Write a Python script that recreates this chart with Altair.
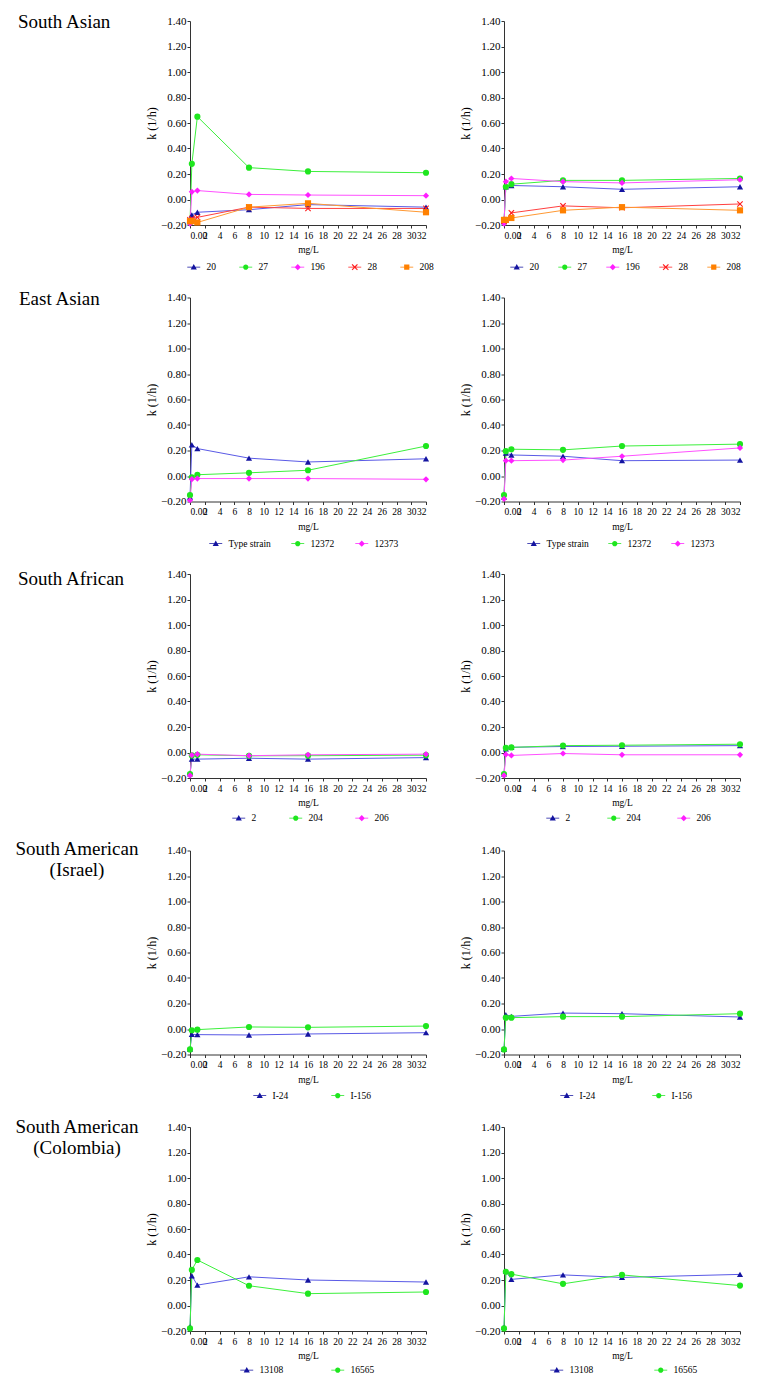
import altair as alt
import pandas as pd

# ---------------- data ----------------
x_conc = [0, 0.25, 1, 8, 16, 32]

row_labels = ["South Asian", "East Asian", "South African",
              "South American\n(Israel)", "South American\n(Colombia)"]

sa_series = ["20", "27", "196", "28", "208"]
sa_left_20 = [-0.16, -0.12, -0.10, -0.08, -0.04, -0.06]
sa_left_27 = [-0.18, 0.28, 0.65, 0.25, 0.22, 0.21]
sa_left_196 = [-0.19, 0.06, 0.07, 0.04, 0.035, 0.03]
sa_left_28 = [-0.16, -0.15, -0.14, -0.06, -0.07, -0.07]
sa_left_208 = [-0.17, -0.17, -0.18, -0.06, -0.03, -0.10]
sa_right_20 = [-0.17, 0.10, 0.11, 0.10, 0.08, 0.10]
sa_right_27 = [-0.18, 0.10, 0.12, 0.15, 0.15, 0.165]
sa_right_196 = [-0.19, 0.14, 0.165, 0.14, 0.13, 0.155]
sa_right_28 = [-0.17, -0.16, -0.105, -0.05, -0.065, -0.035]
sa_right_208 = [-0.16, -0.16, -0.145, -0.085, -0.06, -0.085]

ea_series = ["Type strain", "12372", "12373"]
ea_left_type = [-0.165, 0.245, 0.215, 0.14, 0.11, 0.135]
ea_left_12372 = [-0.15, -0.01, 0.01, 0.025, 0.045, 0.235]
ea_left_12373 = [-0.19, -0.025, -0.02, -0.02, -0.02, -0.026]
ea_right_type = [-0.165, 0.18, 0.165, 0.155, 0.12, 0.125]
ea_right_12372 = [-0.15, 0.195, 0.21, 0.205, 0.235, 0.25]
ea_right_12373 = [-0.18, 0.12, 0.12, 0.125, 0.155, 0.22]

saf_series = ["2", "204", "206"]
saf_left_2 = [-0.165, -0.052, -0.052, -0.045, -0.052, -0.04]
saf_left_204 = [-0.17, -0.023, -0.018, -0.026, -0.025, -0.021]
saf_left_206 = [-0.18, -0.02, -0.013, -0.025, -0.018, -0.013]
saf_right_2 = [-0.168, 0.028, 0.041, 0.047, 0.049, 0.054]
saf_right_204 = [-0.17, 0.036, 0.04, 0.054, 0.057, 0.065]
saf_right_206 = [-0.18, -0.016, -0.023, -0.008, -0.018, -0.018]

isr_series = ["I-24", "I-156"]
isr_left_i24 = [-0.158, -0.042, -0.044, -0.047, -0.039, -0.029]
isr_left_i156 = [-0.16, -0.01, -0.005, 0.016, 0.013, 0.023]
isr_right_i24 = [-0.159, 0.112, 0.099, 0.125, 0.12, 0.094]
isr_right_i156 = [-0.16, 0.089, 0.089, 0.097, 0.097, 0.12]

col_series = ["13108", "16565"]
col_left_13108 = [-0.168, 0.233, 0.16, 0.225, 0.2, 0.184]
col_left_16565 = [-0.18, 0.28, 0.357, 0.155, 0.093, 0.106]
col_right_13108 = [-0.172, 0.27, 0.205, 0.24, 0.22, 0.244]
col_right_16565 = [-0.18, 0.265, 0.246, 0.17, 0.24, 0.156]

x_ticks = list(range(0, 33, 2))
y_ticks = [-0.2, 0.0, 0.2, 0.4, 0.6, 0.8, 1.0, 1.2, 1.4]

# ---------------- styles ----------------
SERIF = "Liberation Serif"
MARKER_COLORS = ["#1414a0", "#1ee61e", "#ff1eff", "#ff1e1e", "#ff8000"]
LINE_COLORS = ["#5a5ae6", "#3cf03c", "#ff50ff", "#ff4040", "#ff9933"]
XPATH = ("M-1,-0.75L-0.75,-1L0,-0.25L0.75,-1L1,-0.75L0.25,0L1,0.75L0.75,1"
         "L0,0.25L-0.75,1L-1,0.75L-0.25,0Z")
SHAPES = ["triangle-up", "circle", "diamond", XPATH, "square"]
BAR = "M-2.1,-0.09L2.1,-0.09L2.1,0.09L-2.1,0.09Z"
LEG_SHAPES = [
    "M0,-1L1,0.8L-1,0.8Z" + BAR,
    "M0.85,0A0.85,0.85 0 1,1 -0.85,0A0.85,0.85 0 1,1 0.85,0Z" + BAR,
    "M0,-1L1,0L0,1L-1,0Z" + BAR,
    XPATH + BAR,
    "M-0.85,-0.85L0.85,-0.85L0.85,0.85L-0.85,0.85Z" + BAR,
]
W, H = 236, 204


def panel(series, values, leg_x, leg_y, col_pad, label=None, label_x=0,
          label_align="left", label_y=7):
    recs = []
    for i, (name, vals) in enumerate(zip(series, values)):
        for xv, yv in zip(x_conc, vals):
            recs.append({"conc": xv, "k": yv, "series": name,
                         "lc": LINE_COLORS[i]})
    df = pd.DataFrame(recs)
    n = len(series)
    xenc = alt.X("conc:Q", scale=alt.Scale(domain=[0, 32], nice=False, zero=False),
                 axis=alt.Axis(values=x_ticks, title="mg/L",
                               labelExpr="datum.value == 0 ? '0.00' : datum.label",
                               labelOverlap=False, labelFontSize=9.5,
                               labelFont=SERIF, titleFont=SERIF,
                               tickSize=3, labelPadding=2, titlePadding=5,
                               titleFontSize=9.5))
    yenc = alt.Y("k:Q", scale=alt.Scale(domain=[-0.2, 1.4], nice=False, zero=False),
                 axis=alt.Axis(values=y_ticks, format=".2f", title="k (1/h)",
                               labelFont=SERIF, titleFont=SERIF,
                               labelFontSize=11, tickSize=3, labelPadding=1,
                               titlePadding=2, titleFontSize=12))
    base = alt.Chart(df)
    line = base.mark_line(strokeWidth=1).encode(
        x=xenc, y=yenc, color=alt.Color("lc:N", scale=None),
        detail="series:N", order="conc:Q")
    pts = base.mark_point(filled=True, opacity=1, size=38).encode(
        x=xenc, y=yenc,
        color=alt.Color("series:N", scale=alt.Scale(domain=series,
                                                    range=MARKER_COLORS[:n]),
                        legend=None),
        shape=alt.Shape("series:N", scale=alt.Scale(domain=series,
                                                    range=SHAPES[:n]),
                        legend=None))
    leg = alt.Legend(orient="none", legendX=leg_x, legendY=leg_y,
                     direction="horizontal", title=None, columnPadding=col_pad,
                     labelFont=SERIF, labelFontSize=9.5, labelOffset=8,
                     symbolSize=38, symbolStrokeWidth=0, symbolOpacity=1,
                     labelColor="black")
    legpts = base.mark_point(filled=True, opacity=0, size=38).encode(
        x=xenc, y=yenc,
        color=alt.Color("series:N", scale=alt.Scale(domain=series,
                                                    range=MARKER_COLORS[:n]),
                        legend=leg),
        shape=alt.Shape("series:N", scale=alt.Scale(domain=series,
                                                    range=LEG_SHAPES[:n]),
                        legend=leg))
    layers = [line, pts, legpts]
    if label is not None:
        txt = alt.Chart(pd.DataFrame({"t": [label]})).mark_text(
            align=label_align, baseline="alphabetic", font=SERIF, fontSize=19,
            lineBreak="\n", lineHeight=21, color="black").encode(
            x=alt.value(label_x), y=alt.value(label_y), text="t:N")
        layers.append(txt)
    return alt.layer(*layers).resolve_scale(
        color="independent", shape="independent").properties(width=W, height=H)


panels = [
    panel(sa_series, [sa_left_20, sa_left_27, sa_left_196, sa_left_28, sa_left_208],
          -1, 241, 23, row_labels[0], -172),
    panel(sa_series, [sa_right_20, sa_right_27, sa_right_196, sa_right_28, sa_right_208],
          8, 241, 19),
    panel(ea_series, [ea_left_type, ea_left_12372, ea_left_12373],
          21, 241, 20, row_labels[1], -171),
    panel(ea_series, [ea_right_type, ea_right_12372, ea_right_12373],
          25, 241, 19),
    panel(saf_series, [saf_left_2, saf_left_204, saf_left_206],
          44, 239, 32, row_labels[2], -172, label_y=11),
    panel(saf_series, [saf_right_2, saf_right_204, saf_right_206],
          44, 239, 36),
    panel(isr_series, [isr_left_i24, isr_left_i156],
          65, 240, 42, row_labels[3], -113, "center", 4),
    panel(isr_series, [isr_right_i24, isr_right_i156],
          58, 240, 56),
    panel(col_series, [col_left_13108, col_left_16565],
          52, 238, 47, row_labels[4], -113, "center", 6),
    panel(col_series, [col_right_13108, col_right_16565],
          48, 238, 60),
]

chart = alt.concat(
    *panels, columns=2, spacing=alt.RowColnumber(row=72.5, column=78),
    bounds="flush"
).resolve_scale(
    color="independent", shape="independent"
).properties(
    padding={"left": 6, "top": 5, "right": 0, "bottom": 0}
).configure(background="white").configure_view(stroke=None).configure_axis(
    grid=False, labelFont=SERIF, titleFont=SERIF, labelColor="black",
    titleColor="black", titleFontWeight="normal", domainColor="#333333",
    tickColor="#333333", domainWidth=1, tickWidth=1
).configure_legend(labelFont=SERIF)

chart.save("out.html", embed_options={"renderer": "svg", "actions": False})
